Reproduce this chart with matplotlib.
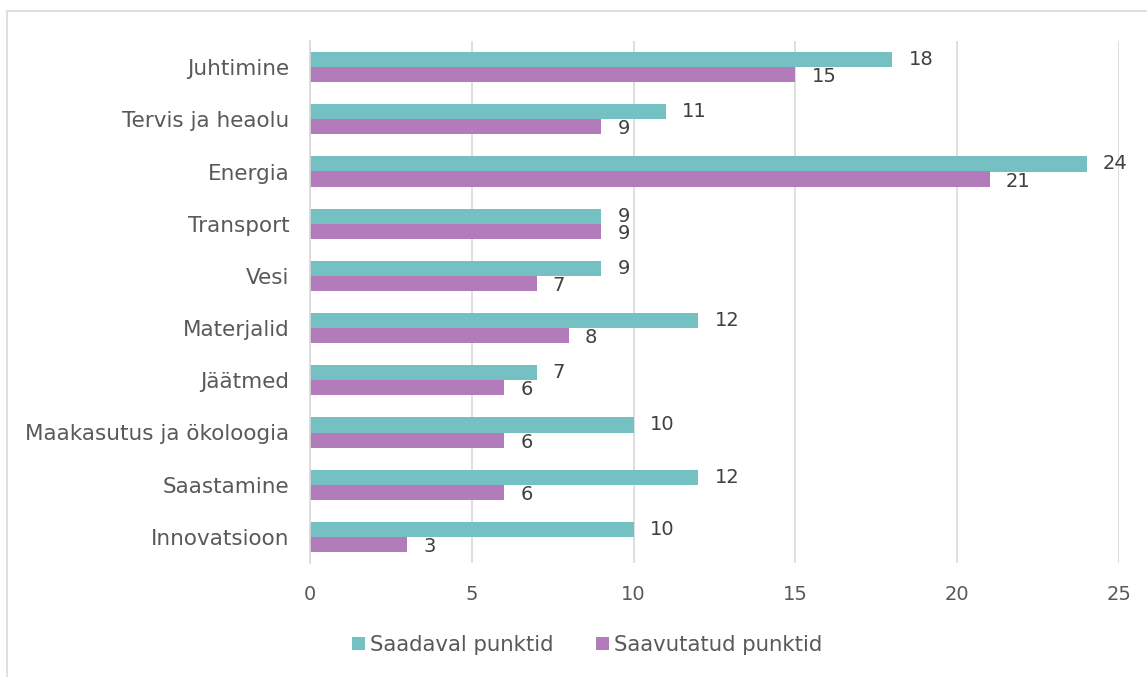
import matplotlib
matplotlib.use("Agg")
import matplotlib.pyplot as plt
import numpy as np
from matplotlib.patches import Rectangle

categories = ["Juhtimine", "Tervis ja heaolu", "Energia", "Transport", "Vesi",
              "Materjalid", "Jäätmed", "Maakasutus ja ökoloogia", "Saastamine",
              "Innovatsioon"]
available = [18, 11, 24, 9, 9, 12, 7, 10, 12, 10]
achieved = [15, 9, 21, 9, 7, 8, 6, 6, 6, 3]
series_names = ["Saadaval punktid", "Saavutatud punktid"]
xticks = [0, 5, 10, 15, 20, 25]

teal = "#74C0C3"
purple = "#B27CBB"
grid_c = "#D9D9D9"
text_c = "#595959"
label_c = "#404040"

plt.rcParams["font.family"] = ["DejaVu Sans"]

fig = plt.figure(figsize=(11.47, 6.77), dpi=100)
ax = fig.add_axes([310 / 1147, 1 - 563 / 677, (1119 - 310) / 1147, (563 - 41) / 677])

# outer frame of the chart area
fig.patches.append(Rectangle((7 / 1147, -0.05), 1.2, 1 - 11 / 677 + 0.05,
                             transform=fig.transFigure, fill=False,
                             edgecolor=grid_c, linewidth=1.2))

n = len(categories)
y = np.arange(n)[::-1].astype(float)
h = 0.29

b1 = ax.barh(y + h / 2, available, height=h, color=teal, label=series_names[0])
b2 = ax.barh(y - h / 2, achieved, height=h, color=purple, label=series_names[1])

for yy, v in zip(y + h / 2, available):
    ax.text(v + 0.5, yy, str(v), va="center", ha="left", fontsize=14, color=label_c)
for yy, v in zip(y - h / 2, achieved):
    ax.text(v + 0.5, yy - 0.04, str(v), va="center", ha="left", fontsize=14, color=label_c)

ax.set_xlim(0, 25)
ax.set_ylim(-0.5, n - 0.5)
ax.set_xticks(xticks)
ax.set_xticklabels([str(t) for t in xticks])
ax.set_yticks(y)
ax.set_yticklabels(categories)
ax.tick_params(axis="both", length=0, colors=text_c)
ax.tick_params(axis="x", pad=16, labelsize=14)
ax.tick_params(axis="y", pad=15, labelsize=15.5)
ax.grid(axis="x", color=grid_c, linewidth=1.2)
ax.set_axisbelow(True)
for s in ["top", "right", "bottom"]:
    ax.spines[s].set_visible(False)
ax.spines["left"].set_color(grid_c)
ax.spines["left"].set_linewidth(1.2)

leg = fig.legend(handles=[b1, b2], labels=series_names, loc="center",
                 bbox_to_anchor=(587 / 1147, 1 - 645 / 677), ncol=2, frameon=False,
                 fontsize=15.3, handlelength=0.6, handleheight=0.6, handletextpad=0.25,
                 columnspacing=2.0)
for t in leg.get_texts():
    t.set_color(text_c)

fig.savefig("out.png", dpi=100)
